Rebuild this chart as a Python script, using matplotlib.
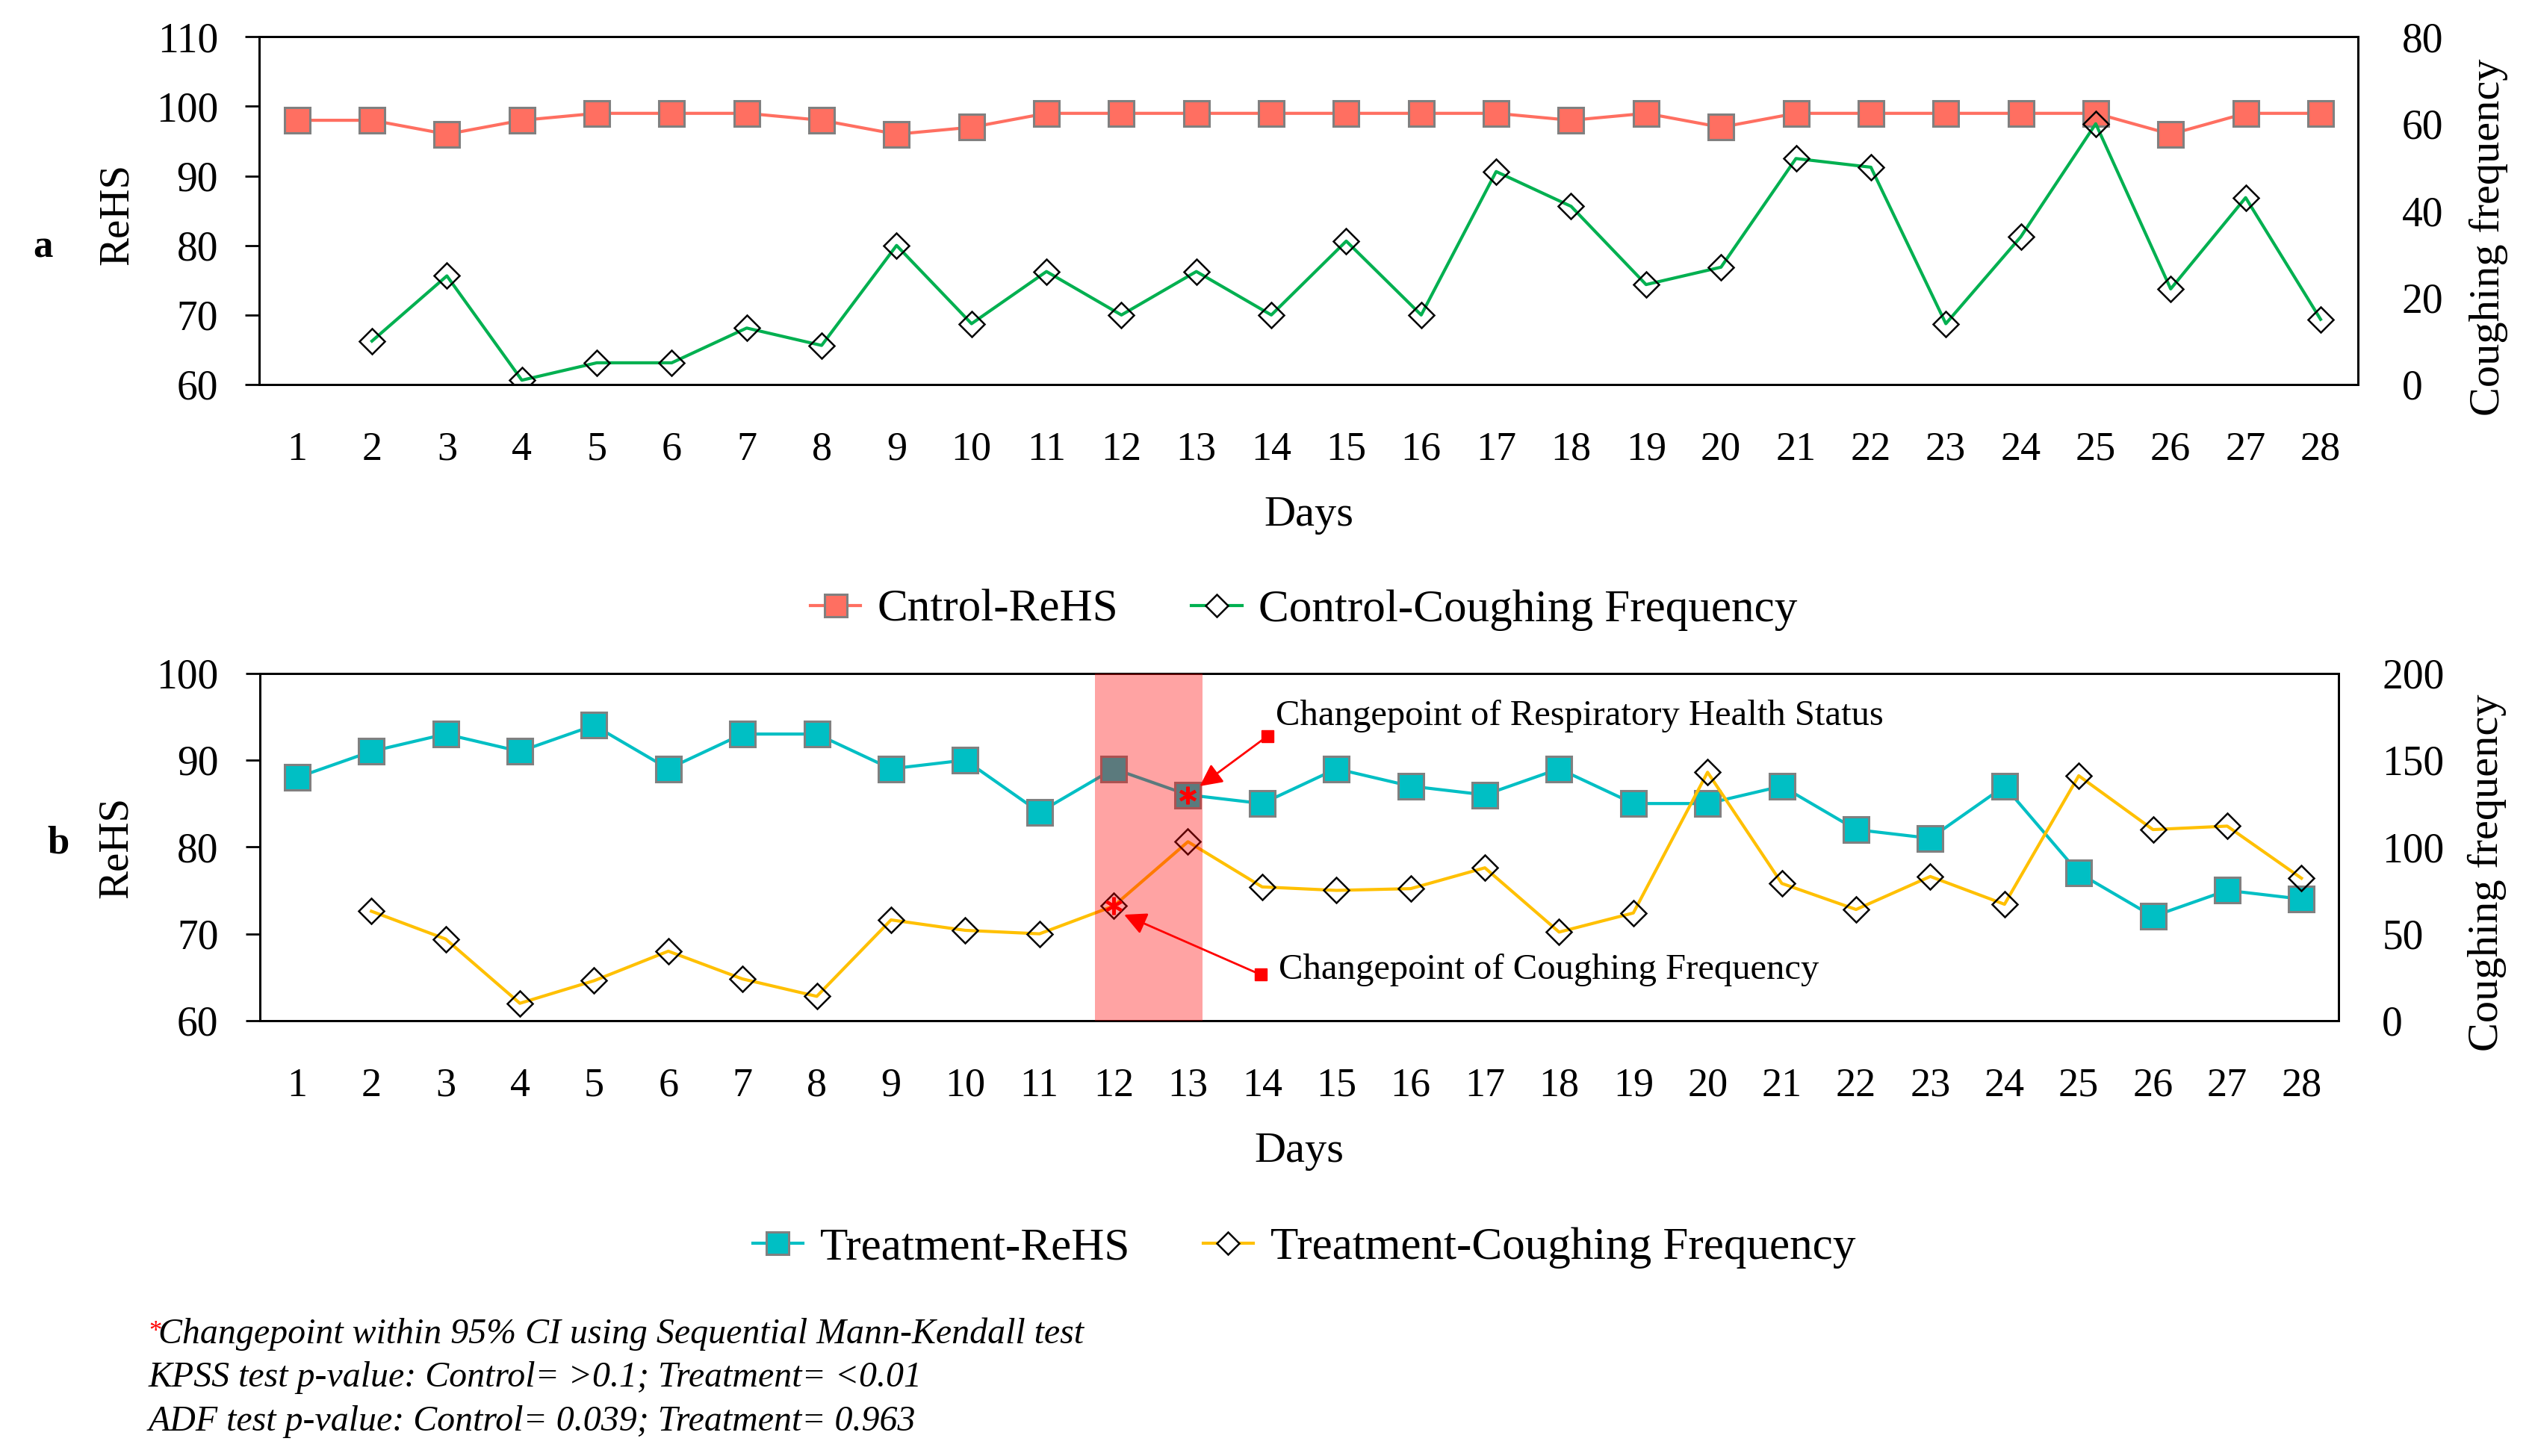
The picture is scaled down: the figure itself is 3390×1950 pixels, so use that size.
import numpy as np
import matplotlib
matplotlib.use('Agg')
import matplotlib.pyplot as plt
from matplotlib.lines import Line2D

plt.rcParams['font.family'] = ['Liberation Serif', 'DejaVu Serif']

# data
days = list(range(1, 29))
control_rehs = [98, 98, 96, 98, 99, 99, 99, 98, 96, 97, 99, 99, 99, 99,
                99, 99, 99, 98, 99, 97, 99, 99, 99, 99, 99, 96, 99, 99]
control_cough = [np.nan, 10, 25, 1, 5, 5, 13, 9, 32, 14, 26, 16, 26, 16,
                 33, 16, 49, 41, 23, 27, 52, 50, 14, 34, 60, 22, 43, 15]
treat_rehs = [88, 91, 93, 91, 94, 89, 93, 93, 89, 90, 84, 89, 86, 85,
              89, 87, 86, 89, 85, 85, 87, 82, 81, 87, 77, 72, 75, 74]
treat_cough = [np.nan, 63, 47, 10, 23, 40, 24, 14, 58, 52, 50, 66, 103, 77,
               75, 76, 88, 51, 62, 143, 79, 64, 83, 67, 141, 110, 112, 82]

# changepoints (day, ReHS value) and (day, coughing value)
cp_rehs = (13, 86)
cp_cough = (12, 66)
cp_window = (11.75, 13.2)

footnotes = ['Changepoint within 95% CI using Sequential Mann-Kendall test',
             'KPSS test p-value: Control= >0.1; Treatment= <0.01',
             'ADF test p-value: Control= 0.039; Treatment= 0.963']

salmon = '#FF6F61'
green = '#00B050'
teal = '#00BFC4'
gold = '#FFC000'

fig = plt.figure(figsize=(33.9, 19.5), dpi=100)
ax1 = fig.add_axes([0.1025, 0.7359, 0.8288, 0.2388])
ax1b = ax1.twinx()
ax2 = fig.add_axes([0.1027, 0.2990, 0.8209, 0.2386])
ax2b = ax2.twinx()

sq = dict(marker='s', ms=24, mec='#808080', mew=2.2, lw=3)
dm = dict(marker='D', ms=17, mfc='none', mec='black', mew=1.8, lw=3)

ax1.plot(days, control_rehs, color=salmon, mfc=salmon, **sq)
ax1b.plot(days, control_cough, color=green, **dm)
ax2.plot(days, treat_rehs, color=teal, mfc=teal, **sq)
ax2b.plot(days, treat_cough, color=gold, **dm)

# changepoint window, drawn over the series
ax2b.axvspan(cp_window[0], cp_window[1], color='red', alpha=0.36, lw=0, zorder=5)
ax2b.plot(cp_rehs[0], cp_rehs[1], transform=ax2.transData, marker=(6, 2, 0),
          ms=17, mew=3, color='red', zorder=6)
ax2b.plot(cp_cough[0], cp_cough[1], marker=(6, 2, 0),
          ms=17, mew=3, color='red', zorder=6)

# annotation arrows (left-axis coordinates)
arr = dict(arrowstyle='-|>', color='red', lw=2, mutation_scale=45, shrinkA=0, shrinkB=0)
ax2b.annotate('', xy=(13.16, 87.0), xytext=(14.07, 92.75),
              xycoords=ax2.transData, textcoords=ax2.transData, arrowprops=arr, zorder=7)
ax2b.annotate('', xy=(12.14, 72.2), xytext=(13.98, 65.3),
              xycoords=ax2.transData, textcoords=ax2.transData, arrowprops=arr, zorder=7)
ax2b.plot([14.07, 13.98], [92.75, 65.3], 's', color='red', ms=11,
          transform=ax2.transData, zorder=7)
ax2b.text(14.18, 95.1, 'Changepoint of Respiratory Health Status', fontsize=35,
          va='center', ha='left', transform=ax2.transData, zorder=7)
ax2b.text(14.22, 65.8, 'Changepoint of Coughing Frequency', fontsize=35,
          va='center', ha='left', transform=ax2.transData, zorder=7)

ax1.set_ylim(60, 110)
ax1.set_yticks(range(60, 111, 10))
ax1b.set_ylim(0, 80)
ax1b.set_yticks(range(0, 81, 20))
ax2.set_ylim(60, 100)
ax2.set_yticks(range(60, 101, 10))
ax2b.set_ylim(0, 200)
ax2b.set_yticks(range(0, 201, 50))

for ax in (ax1, ax2):
    ax.set_xlim(0.5, 28.5)
    ax.set_xticks(days)
    ax.tick_params(axis='x', length=0, pad=45, labelsize=39)
    ax.tick_params(axis='y', direction='out', length=14, width=2, pad=26, labelsize=40)
    ax.set_xlabel('Days', fontsize=42, labelpad=26)
    ax.set_ylabel('ReHS', fontsize=41)
for ax in (ax1b, ax2b):
    ax.tick_params(axis='y', length=0, pad=42, labelsize=40)
    ax.set_ylabel('Coughing frequency', fontsize=42, rotation=90)
for ax in (ax1, ax1b, ax2, ax2b):
    for s in ax.spines.values():
        s.set_linewidth(2)
        s.set_color('black')

ax1.yaxis.set_label_coords(-0.0587, 0.49)
ax2.yaxis.set_label_coords(-0.0596, 0.498)
ax1b.yaxis.set_label_coords(1.053, 0.423)
ax2b.yaxis.set_label_coords(1.062, 0.427)

fig.text(0.017, 0.830, 'a', fontsize=38, fontweight='bold', ha='center', va='center')
fig.text(0.0230, 0.421, 'b', fontsize=38, fontweight='bold', ha='center', va='center')

# legends
h1 = Line2D([], [], color=salmon, mfc=salmon, marker='s', ms=22, mec='#808080', mew=2.2, lw=3)
h2 = Line2D([], [], color=green, marker='D', ms=15, mfc='white', mec='black', mew=1.8, lw=3)
h3 = Line2D([], [], color=teal, mfc=teal, marker='s', ms=22, mec='#808080', mew=2.2, lw=3)
h4 = Line2D([], [], color=gold, marker='D', ms=15, mfc='white', mec='black', mew=1.8, lw=3)
leg_kw = dict(loc='center', ncol=2, frameon=False, fontsize=44,
              handlelength=1.1, handletextpad=0.37, columnspacing=1.6)
fig.legend([h1, h2], ['Cntrol-ReHS', 'Control-Coughing Frequency'],
           bbox_to_anchor=(0.515, 0.581), **leg_kw)
fig.legend([h3, h4], ['Treatment-ReHS', 'Treatment-Coughing Frequency'],
           bbox_to_anchor=(0.515, 0.143), **leg_kw)

# footnotes
fig.text(0.0587, 0.0805, '*', color='red', fontsize=25, va='baseline')
fig.text(0.0625, 0.0775, footnotes[0], fontsize=34.5, style='italic', va='baseline')
fig.text(0.0587, 0.0477, footnotes[1], fontsize=34.5, style='italic', va='baseline')
fig.text(0.0587, 0.0175, footnotes[2], fontsize=34.5, style='italic', va='baseline')

fig.savefig('out.png', dpi=100)
